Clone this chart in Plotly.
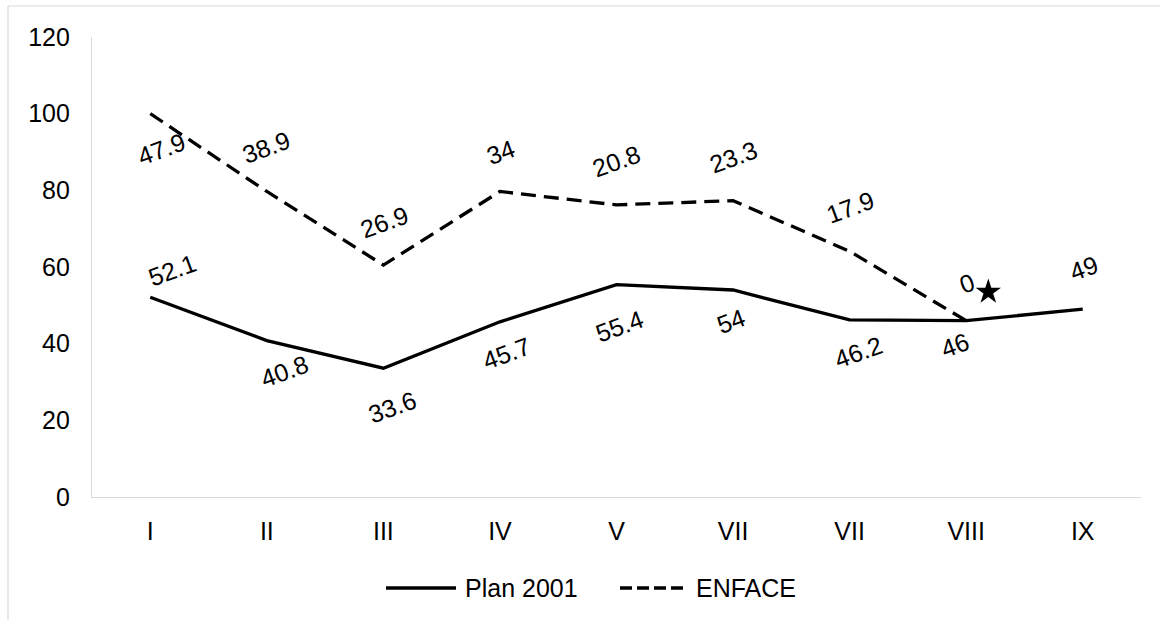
import numpy as np
import plotly.graph_objects as go

# Months (Roman numerals) as they appear on the axis
months = ["I", "II", "III", "IV", "V", "VII", "VII", "VIII", "IX"]

# Series values (ENFACE is stacked on top of Plan 2001)
plan_2001 = [52.1, 40.8, 33.6, 45.7, 55.4, 54, 46.2, 46, 49]
enface = [47.9, 38.9, 26.9, 34, 20.8, 23.3, 17.9, 0, None]

# Significance marker near month VIII
star_x = 7.19
star_y = 53.5

# Label offsets in pixels (dx, dy), dy positive = upwards
plan_offsets = [(22, 27), (18, -30), (9, -39), (7, -31), (3, -41),
                (-2, -31), (9, -32), (-11, -24), (1, 41)]
enface_offsets = [(11, -35), (0, 44), (1, 43), (1, 39), (0, 44),
                  (0, 44), (1, 44), (1, 38)]

FONT = "Liberation Sans, Arial, sans-serif"
FS = 25

x = np.arange(len(months))
plan_arr = np.array(plan_2001, dtype=float)
enface_arr = np.array([np.nan if v is None else v for v in enface], dtype=float)
enface_top = plan_arr + enface_arr

# Plot area in pixels
L, R, T, B = 92, 1141, 37, 497
W, H = 1160, 620


def px_x(p):
    return (p - L) / (R - L)


def px_y(p):
    return (B - p) / (B - T)


fig = go.Figure()

fig.add_trace(go.Scatter(
    x=x, y=plan_arr, mode="lines", name="Plan 2001",
    line=dict(color="#000000", width=3.3),
    hoverinfo="skip",
))
fig.add_trace(go.Scatter(
    x=x, y=enface_top, mode="lines", name="ENFACE",
    line=dict(color="#000000", width=3.3, dash="15px,8px"),
    connectgaps=False, hoverinfo="skip",
))
fig.add_trace(go.Scatter(
    x=[star_x], y=[star_y], mode="markers",
    marker=dict(symbol="star", size=19, color="#000000"),
    hoverinfo="skip", showlegend=False,
))

annotations = []
for xi, v, (dx, dy) in zip(x, plan_2001, plan_offsets):
    annotations.append(dict(
        x=xi, y=v, text=f"{v:g}", showarrow=False, textangle=-20,
        xshift=dx, yshift=dy, font=dict(family=FONT, size=FS, color="#000000"),
    ))
for xi, v, top, (dx, dy) in zip(x, enface, enface_top, enface_offsets):
    if v is None:
        continue
    annotations.append(dict(
        x=xi, y=top, text=f"{v:g}", showarrow=False, textangle=-20,
        xshift=dx, yshift=dy, font=dict(family=FONT, size=FS, color="#000000"),
    ))

# Legend drawn below the axis
leg_y = 588
annotations.append(dict(
    xref="paper", yref="paper", x=px_x(463), y=px_y(leg_y), text="Plan 2001",
    showarrow=False, xanchor="left", yanchor="middle",
    font=dict(family=FONT, size=FS, color="#000000"),
))
annotations.append(dict(
    xref="paper", yref="paper", x=px_x(694), y=px_y(leg_y), text="ENFACE",
    showarrow=False, xanchor="left", yanchor="middle",
    font=dict(family=FONT, size=FS, color="#000000"),
))

shapes = [
    # outer chart frame
    dict(type="rect", xref="paper", yref="paper",
         x0=px_x(8), x1=px_x(1175), y0=px_y(635), y1=px_y(6),
         line=dict(color="#d9d9d9", width=1.2), fillcolor="rgba(0,0,0,0)",
         layer="below"),
    dict(type="line", xref="paper", yref="paper",
         x0=px_x(386), x1=px_x(456), y0=px_y(leg_y), y1=px_y(leg_y),
         line=dict(color="#000000", width=3.3)),
    dict(type="line", xref="paper", yref="paper",
         x0=px_x(620), x1=px_x(684), y0=px_y(leg_y), y1=px_y(leg_y),
         line=dict(color="#000000", width=3.3, dash="12px,5px")),
]

fig.update_layout(
    width=W, height=H,
    margin=dict(l=L, r=W - R, t=T, b=H - B),
    paper_bgcolor="#ffffff", plot_bgcolor="#ffffff",
    showlegend=False,
    font=dict(family=FONT, size=FS, color="#000000"),
    annotations=annotations, shapes=shapes,
)
fig.update_xaxes(
    range=[-0.5, len(months) - 0.5], tickvals=x, ticktext=months,
    showgrid=False, zeroline=False, showline=True, linecolor="#d9d9d9",
    linewidth=1.2, ticks="", ticklabelstandoff=12,
    tickfont=dict(family=FONT, size=FS, color="#000000"),
)
fig.update_yaxes(
    range=[0, 120], tickvals=list(range(0, 121, 20)),
    showgrid=False, zeroline=False, showline=True, linecolor="#d9d9d9",
    linewidth=1.2, ticks="", ticklabelstandoff=16,
    tickfont=dict(family=FONT, size=FS, color="#000000"),
)

fig.write_html("out.html")
